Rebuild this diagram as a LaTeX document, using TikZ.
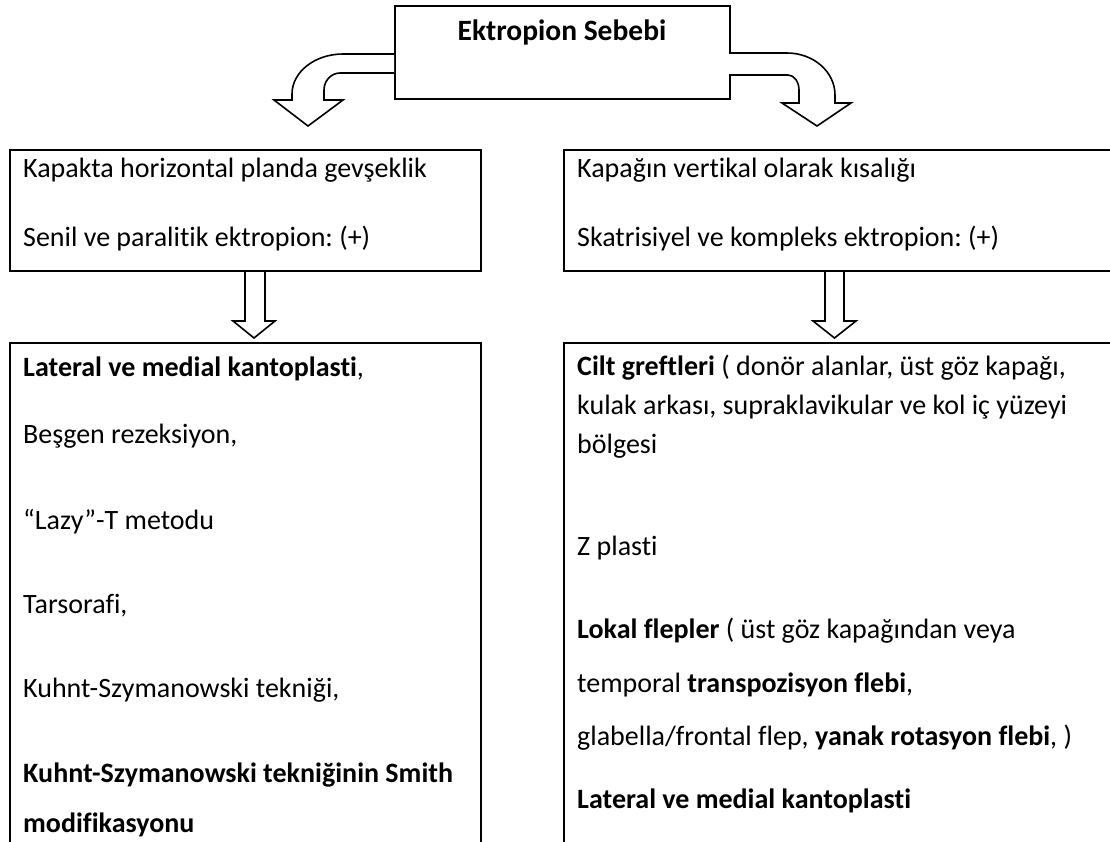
\documentclass[tikz,border=0pt]{standalone}
\usepackage{fontspec}
\setmainfont{Carlito}[Ligatures={NoCommon,NoContextual,NoRequired}]
\frenchspacing
\begin{document}
\begin{tikzpicture}[x=1pt,y=-1pt,
  box/.style={draw=black,line width=2pt,fill=none,inner sep=0pt,anchor=north west},
  blockarrow/.style={draw=black,line width=1.6pt,fill=white,line join=miter},
  txt/.style={anchor=base west,inner sep=0pt,font=\fontsize{28}{33}\selectfont},
  ttl/.style={anchor=base,inner sep=0pt,font=\fontsize{29.5}{34}\selectfont\bfseries}]
\useasboundingbox (0,0) rectangle (1110,841);
\clip (0,0) rectangle (1110,841);
% boxes
\node[box,minimum width=335pt,minimum height=93pt] (top) at (394,5) {};
\node[box,minimum width=471pt,minimum height=121pt] (ml) at (9,149) {};
\node[box,minimum width=560pt,minimum height=121pt] (mr) at (563,149) {};
\node[box,minimum width=471pt,minimum height=540pt] (bl) at (9,342) {};
\node[box,minimum width=560pt,minimum height=540pt] (br) at (563,342) {};
% title
\node[ttl] (t1) at (562,40) {Ektropion Sebebi};
% curved arrows from the title box
\coordinate (la) at (394,54);
\coordinate (ra) at (729,53);
\draw[blockarrow] (la) -- (343,54) .. controls (314.8,54) and (292,72) .. (292,94) -- (292,100) -- (274,100) -- (308,126) -- (343,100) -- (324,100) -- (324,90) .. controls (324,80.6) and (331.2,73) .. (340,73) -- (394,73);
\draw[blockarrow] (ra) -- (787,53) .. controls (813.5,53) and (835,71.8) .. (835,95) -- (835,103) -- (851,103) -- (817,126) -- (782,103) -- (799,103) -- (799,90) .. controls (799,81.7) and (794,75) .. (788,75) -- (729,75);
% down arrows
\draw[blockarrow] (ml.south -| 245,0) -- (245,321) -- (233,321) -- (254,338) -- (275,321) -- (265,321) -- (ml.south -| 265,0);
\draw[blockarrow] (mr.south -| 825,0) -- (825,321) -- (813,321) -- (834.5,338) -- (856,321) -- (844,321) -- (mr.south -| 844,0);
% middle texts
\node[txt] (ml1) at (23,177) {Kapakta horizontal planda gevşeklik};
\node[txt] (ml2) at (23,246) {Senil ve paralitik ektropion: (+)};
\node[txt] (mr1) at (577,177) {Kapağın vertikal olarak kısalığı};
\node[txt] (mr2) at (577,246) {Skatrisiyel ve kompleks ektropion: (+)};
% bottom left texts
\node[txt] (bl1) at (23,376) {\textbf{Lateral ve medial kantoplasti},};
\node[txt] (bl2) at (23,443) {Beşgen rezeksiyon,};
\node[txt] (bl3) at (23,529) {“Lazy”-T metodu};
\node[txt] (bl4) at (23,613) {Tarsorafi,};
\node[txt] (bl5) at (23,697) {Kuhnt-Szymanowski tekniği,};
\node[txt] (bl6) at (23,782) {\textbf{Kuhnt-Szymanowski tekniğinin Smith}};
\node[txt] (bl7) at (23,832) {\textbf{modifikasyonu}};
% bottom right texts
\node[txt] (br1) at (577,375) {\textbf{Cilt greftleri} ( donör alanlar, üst göz kapağı,};
\node[txt] (br2) at (577,414) {kulak arkası, supraklavikular ve kol iç yüzeyi};
\node[txt] (br3) at (577,453) {bölgesi};
\node[txt] (br4) at (577,555) {Z plasti};
\node[txt] (br5) at (577,638) {\textbf{Lokal flepler} ( üst göz kapağından veya};
\node[txt] (br6) at (577,692) {temporal \textbf{transpozisyon flebi},};
\node[txt] (br7) at (577,745) {glabella/frontal flep, \textbf{yanak rotasyon flebi}, )};
\node[txt] (br8) at (577,808) {\textbf{Lateral ve medial kantoplasti}};
\end{tikzpicture}
\end{document}
